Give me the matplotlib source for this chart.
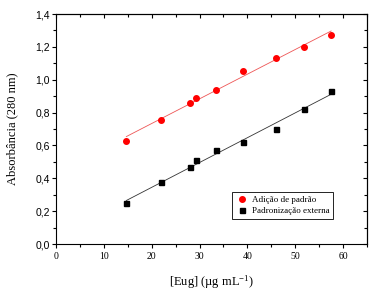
import numpy as np
import matplotlib.pyplot as plt
from matplotlib.ticker import FuncFormatter, MultipleLocator

# dados
conc = [14.7, 22.0, 28.0, 29.3, 33.5, 39.0, 46.0, 51.8, 57.5]
abs_adicao = [0.63, 0.755, 0.86, 0.89, 0.935, 1.055, 1.13, 1.20, 1.275]
abs_externa = [0.25, 0.378, 0.466, 0.51, 0.57, 0.62, 0.70, 0.82, 0.932]

serif = 'Liberation Serif'
sans = 'Liberation Sans'
plt.rcParams['mathtext.fontset'] = 'custom'
plt.rcParams['mathtext.rm'] = serif
plt.rcParams['mathtext.it'] = serif

fig = plt.figure(figsize=(3.74, 2.96), dpi=100)
ax = fig.add_axes([56 / 374, 1 - 244 / 296, (367 - 56) / 374, (244 - 14) / 296])

x = np.array(conc)
for y, cor in [(abs_adicao, '#ee5555'), (abs_externa, '#333333')]:
    a, b = np.polyfit(x, y, 1)
    ax.plot([x[0], x[-1]], [a * x[0] + b, a * x[-1] + b], color=cor, lw=0.6)

ax.plot(conc, abs_adicao, 'o', color='#ff0000', ms=4, label='Adição de padrão')
ax.plot(conc, abs_externa, 's', color='black', ms=3.6, label='Padronização externa')

ax.set_xlim(0, 65)
ax.set_ylim(0, 1.4)
ax.xaxis.set_major_locator(MultipleLocator(10))
ax.xaxis.set_minor_locator(MultipleLocator(5))
ax.yaxis.set_major_locator(MultipleLocator(0.2))
ax.yaxis.set_minor_locator(MultipleLocator(0.1))
ax.yaxis.set_major_formatter(FuncFormatter(lambda v, p: f'{v:.1f}'.replace('.', ',')))

ax.tick_params(which='both', direction='out', width=0.8)
ax.tick_params(which='major', length=3)
ax.tick_params(which='minor', length=2)
for lab in ax.get_xticklabels():
    lab.set_fontfamily(serif)
    lab.set_fontsize(7)
for lab in ax.get_yticklabels():
    lab.set_fontfamily(sans)
    lab.set_fontsize(7.5)
ax.tick_params(axis='x', pad=3)
ax.tick_params(axis='y', pad=1.5)

# eixos de cima e da direita com marcas para dentro
top = ax.secondary_xaxis('top')
top.xaxis.set_major_locator(MultipleLocator(10))
top.xaxis.set_minor_locator(MultipleLocator(5))
top.tick_params(which='both', direction='in', labeltop=False, width=0.8)
top.tick_params(which='major', length=3)
top.tick_params(which='minor', length=2)
right = ax.secondary_yaxis('right')
right.yaxis.set_major_locator(MultipleLocator(0.2))
right.yaxis.set_minor_locator(MultipleLocator(0.1))
right.tick_params(which='both', direction='in', labelright=False, width=0.8)
right.tick_params(which='major', length=3)
right.tick_params(which='minor', length=2)

ax.set_xlabel('[Eug] (µg mL$^{-1}$)', fontfamily=serif, fontsize=9, labelpad=9)
ax.set_ylabel('Absorbância (280 nm)', fontfamily=serif, fontsize=9, labelpad=12)

leg = ax.legend(loc='lower right', bbox_to_anchor=(0.905, 0.09), prop={'family': serif, 'size': 6.5},
                fancybox=False, edgecolor='black', framealpha=1, handletextpad=0.3,
                borderpad=0.4, labelspacing=0.3, handlelength=1.5)
leg.get_frame().set_linewidth(0.6)

plt.savefig('out.png', dpi=100)
